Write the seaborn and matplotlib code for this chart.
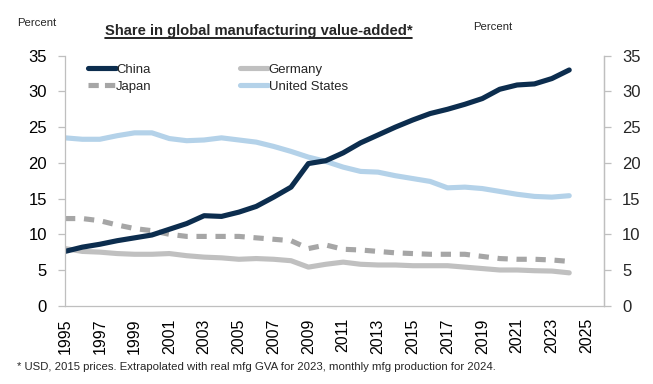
import numpy as np
import pandas as pd
import matplotlib
matplotlib.use("Agg")
import matplotlib.pyplot as plt
from matplotlib.lines import Line2D
from matplotlib import font_manager
import seaborn as sns

years = list(range(1995, 2025))
china = [7.6, 8.2, 8.6, 9.1, 9.5, 9.9, 10.7, 11.5, 12.6, 12.5, 13.1, 13.9, 15.2, 16.6, 19.9, 20.3,
         21.4, 22.8, 23.9, 25.0, 26.0, 26.9, 27.5, 28.2, 29.0, 30.3, 30.9, 31.05, 31.8, 33.0]
germany = [8.0, 7.6, 7.5, 7.3, 7.2, 7.2, 7.3, 7.0, 6.8, 6.7, 6.5, 6.6, 6.5, 6.3, 5.4, 5.8,
           6.1, 5.8, 5.7, 5.7, 5.6, 5.6, 5.6, 5.4, 5.2, 5.0, 5.0, 4.9, 4.85, 4.6]
japan = [12.2, 12.2, 11.9, 11.3, 10.8, 10.5, 10.0, 9.7, 9.7, 9.7, 9.7, 9.5, 9.3, 9.1, 8.0, 8.5,
         7.9, 7.8, 7.6, 7.4, 7.3, 7.2, 7.2, 7.2, 6.9, 6.6, 6.5, 6.5, 6.4, 6.2]
usa = [23.5, 23.3, 23.3, 23.8, 24.2, 24.2, 23.4, 23.1, 23.2, 23.5, 23.2, 22.9, 22.3, 21.6, 20.8, 20.2,
       19.4, 18.8, 18.7, 18.2, 17.8, 17.4, 16.5, 16.6, 16.4, 16.0, 15.6, 15.3, 15.2, 15.4]
series_names = ["China", "Germany", "Japan", "United States"]
xticks = list(range(1995, 2026, 2))
yticks = list(range(0, 36, 5))

title = "Share in global manufacturing value-added*"
footnote = "* USD, 2015 prices. Extrapolated with real mfg GVA for 2023, monthly mfg production for 2024."

sns.set_style("white")
plt.rcParams["font.family"] = ["Liberation Sans", "DejaVu Sans"]

installed = {f.name for f in font_manager.fontManager.ttflist}
if "Liberation Sans Narrow" in installed:
    nfam = ["Liberation Sans Narrow", "DejaVu Sans"]
    k = 1.0
else:
    nfam = ["Liberation Sans", "DejaVu Sans"]
    k = 0.82

colors = {"China": "#0c2d4e", "Germany": "#c0c0c0", "Japan": "#a6a6a6", "United States": "#b4d2e9"}

fig = plt.figure(figsize=(6.53, 3.84), dpi=100)
ax = fig.add_axes([65 / 653, 1 - 305.7 / 384, (604 - 65) / 653, (305.7 - 55.7) / 384])

df = pd.DataFrame({"year": years, "China": china, "Germany": germany, "Japan": japan, "United States": usa})

lw = 3.7
sns.lineplot(data=df, x="year", y="United States", ax=ax, color=colors["United States"], lw=lw,
             solid_capstyle="round")
sns.lineplot(data=df, x="year", y="Germany", ax=ax, color=colors["Germany"], lw=lw, solid_capstyle="round")
sns.lineplot(data=df, x="year", y="Japan", ax=ax, color=colors["Japan"], lw=lw)
ax.lines[-1].set_dashes((2.0, 1.7))
sns.lineplot(data=df, x="year", y="China", ax=ax, color=colors["China"], lw=lw, solid_capstyle="round")

ax.set_xlim(1995, 2026)
ax.set_ylim(0, 35)
ax.set_xticks(xticks)
ax.set_xticklabels([str(t) for t in xticks], rotation=90, fontsize=11.5)
ax.set_yticks(yticks)
ax.set_yticklabels([str(t) for t in yticks], fontsize=12)
ax.set_xlabel("")
ax.set_ylabel("")
for s in ["left", "bottom", "right"]:
    ax.spines[s].set_color("#bfbfbf")
    ax.spines[s].set_linewidth(0.9)
ax.spines["top"].set_visible(False)
ax.tick_params(axis="both", which="major", direction="out", length=5, width=0.9, color="#bfbfbf",
               labelcolor="black")
ax.tick_params(axis="y", pad=8)
ax.tick_params(axis="x", pad=4)

ax2 = ax.twinx()
ax2.set_ylim(0, 35)
ax2.set_yticks(yticks)
ax2.set_yticklabels([str(t) for t in yticks], fontsize=12)
for s in ["left", "bottom", "top"]:
    ax2.spines[s].set_visible(False)
ax2.spines["right"].set_color("#bfbfbf")
ax2.spines["right"].set_linewidth(0.9)
ax2.tick_params(axis="y", direction="out", length=5, width=0.9, color="#bfbfbf", pad=8)

handles = [
    Line2D([], [], color=colors["China"], lw=lw, solid_capstyle="round"),
    Line2D([], [], color=colors["Japan"], lw=lw, dashes=(2.0, 1.2)),
    Line2D([], [], color=colors["Germany"], lw=lw, solid_capstyle="round"),
    Line2D([], [], color=colors["United States"], lw=lw, solid_capstyle="round"),
]
labels = ["China", "Japan", "Germany", "United States"]
lfs = 11.5 * k
leg = ax.legend(handles, labels, ncol=2, loc="upper left", bbox_to_anchor=(0.042, 0.968), frameon=False,
                prop={"family": nfam, "size": lfs}, handlelength=28 / (lfs * 1.389),
                handletextpad=0.05, columnspacing=88 / (lfs * 1.389), labelspacing=0.36,
                borderaxespad=0.0, borderpad=0.0)

fig.text(17 / 653, 1 - 23 / 384, "Percent", fontsize=10 * k, family=nfam, ha="left", va="center")
fig.text(512 / 653, 1 - 27 / 384, "Percent", fontsize=10 * k, family=nfam, ha="right", va="center")
t = fig.text(258.5 / 653, 1 - 30.5 / 384, title, fontsize=13 * k, family=nfam, fontweight="bold",
             ha="center", va="center")
fig.text(17 / 653, 1 - 367 / 384, footnote, fontsize=10 * k, family=nfam, ha="left", va="center")

fig.canvas.draw()
bb = t.get_window_extent()
y_line = bb.y0 - 0.5
fig.add_artist(Line2D([bb.x0 / 653, bb.x1 / 653], [y_line / 384, y_line / 384], color="black", lw=1.2,
                      transform=fig.transFigure))

fig.savefig("out.png", dpi=100)
